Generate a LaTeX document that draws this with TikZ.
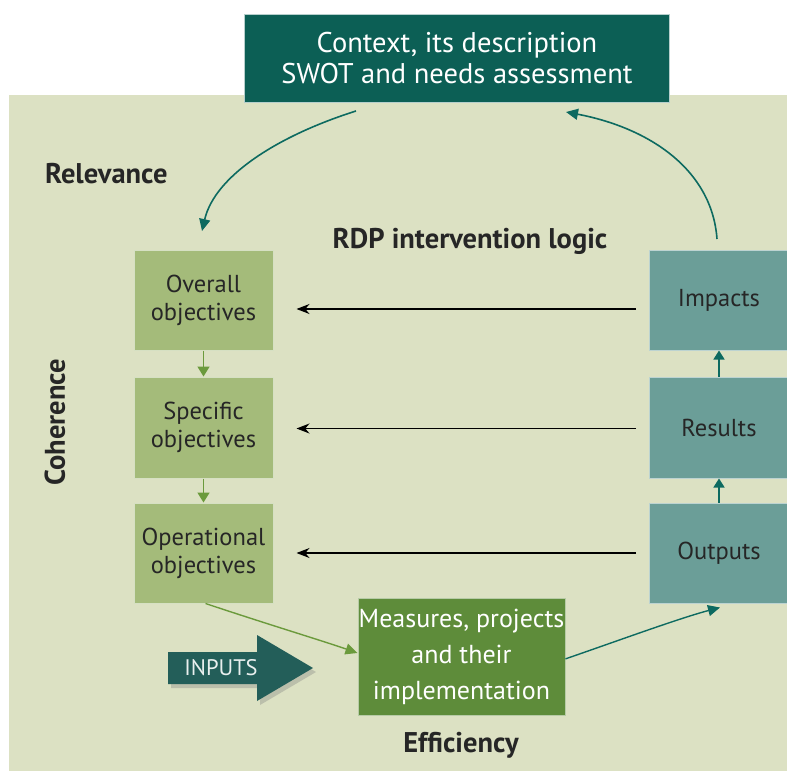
\documentclass[tikz,border=0pt]{standalone}
\usepackage{fontspec}
\setmainfont{PT Sans}
\usetikzlibrary{arrows.meta,shadows,calc}
\definecolor{beige}{HTML}{DCE1C3}
\definecolor{ctxcol}{HTML}{0C5F55}
\definecolor{lgreen}{HTML}{A4BB7A}
\definecolor{tealbox}{HTML}{6B9E98}
\definecolor{measurecol}{HTML}{5E8C3A}
\definecolor{inputcol}{HTML}{235E59}
\definecolor{tealarrow}{HTML}{0D6A60}
\definecolor{greenarrow}{HTML}{6B9A3C}
\definecolor{txt}{HTML}{262626}
\begin{document}
\begin{tikzpicture}[x=1pt,y=-1pt,
  lgbox/.style={draw=white!55!lgreen,line width=1pt,fill=lgreen,minimum width=139pt,minimum height=100pt,
    align=center,inner sep=0pt,text=txt,font=\fontsize{24.5}{28}\selectfont},
  tbox/.style={draw=white!55!tealbox,line width=1pt,fill=tealbox,minimum width=139pt,minimum height=100pt,
    align=center,inner sep=0pt,text=txt,font=\fontsize{24.5}{28}\selectfont},
  lbl/.style={text=txt,font=\fontsize{28.5}{32}\selectfont\bfseries,inner sep=0pt},
  tealarr/.style={draw=tealarrow,line width=1.6pt,-{Triangle[length=12pt,width=11pt]}},
  blackarr/.style={draw=black,line width=1.2pt,-{Stealth[length=13pt,width=10pt]}},
  greenarr/.style={draw=greenarrow,line width=1.6pt,-{Triangle[length=10pt,width=12pt]}}
]
\useasboundingbox (0,0) rectangle (787,771);
\fill[white] (0,0) rectangle (787,771);
\fill[beige] (9,95) rectangle (787,771);

% top context box
\node[fill=ctxcol,draw=white!70!ctxcol,minimum width=425pt,minimum height=88pt,inner sep=0pt,
  align=center,text=white,font=\fontsize{28.5}{31}\selectfont] (ctx) at (457,58)
  {Context, its description\\SWOT and needs assessment};

% labels
\node[lbl,anchor=west] (rel) at (45,174) {Relevance};
\node[lbl] (rdp) at (470,241) {RDP intervention logic};
\node[lbl,rotate=90] (coh) at (55,422) {Coherence};
\node[lbl] (eff) at (461,745) {Efficiency};

% left column
\node[lgbox] (ov) at (203.5,300) {Overall\\objectives};
\node[lgbox,minimum height=101pt] (sp) at (203.5,427.5) {Specific\\objectives};
\node[lgbox] (op) at (203.5,553) {Operational\\objectives};

% right column
\node[tbox] (im) at (719,300) {Impacts};
\node[tbox,minimum height=101pt] (re) at (719,427.5) {Results};
\node[tbox] (ou) at (719,553) {Outputs};

% measures
\node[fill=measurecol,draw=white!55!measurecol,line width=1pt,minimum width=207pt,minimum height=117pt,
  inner sep=0pt,align=center,text=white,font=\fontsize{26}{36}\selectfont] (me) at (461.5,656.5)
  {Measures, projects\\and their\\implementation};

% inputs arrow
\fill[inputcol,drop shadow={shadow xshift=3pt,shadow yshift=-4pt,opacity=0.35}]
  (168,652) -- (257,652) -- (257,635) -- (313,668) -- (257,701) -- (257,684) -- (168,684) -- cycle;
\node[text=white!90!inputcol,font=\fontsize{22.5}{26}\selectfont,inner sep=0pt] (inp) at (221,668) {INPUTS};

% top curved arrows
\coordinate (c1) at (356,111);
\coordinate (c2) at (202,231);
\draw[tealarr] (c1) .. controls (280,135) and (215,175) .. (c2);
\coordinate (c3) at (717,239);
\coordinate (c4) at (566,112);
\draw[tealarr] (c3) .. controls (712,170) and (650,128) .. (c4);

% black arrows
\draw[blackarr] ([shift={(-13,9)}]im.west) -- ([shift={(23,9)}]ov.east);
\draw[blackarr] ([shift={(-13,1)}]re.west) -- ([shift={(23,1)}]sp.east);
\draw[blackarr] ([xshift=-13]ou.west) -- ([xshift=23]op.east);

% green small arrows
\draw[greenarr] (ov.south) -- (sp.north);
\draw[greenarr] (sp.south) -- (op.north);

% teal small arrows
\draw[tealarr,-{Triangle[length=9pt,width=11pt]}] (ou.north) -- (re.south);
\draw[tealarr,-{Triangle[length=9pt,width=11pt]}] (re.north) -- (im.south);

% operational -> measures, measures -> outputs
\draw[greenarr,line width=1.4pt,-{Triangle[length=12pt,width=11pt]}]
  ([xshift=2pt]op.south) .. controls (270,625) and (320,640) .. ($(me.north west)!0.47!(me.south west)$);
\draw[tealarr,line width=1.4pt]
  ($(me.north east)!0.52!(me.south east)$) .. controls (620,640) and (680,618) .. ([shift={(1,4)}]ou.south);
\end{tikzpicture}
\end{document}
